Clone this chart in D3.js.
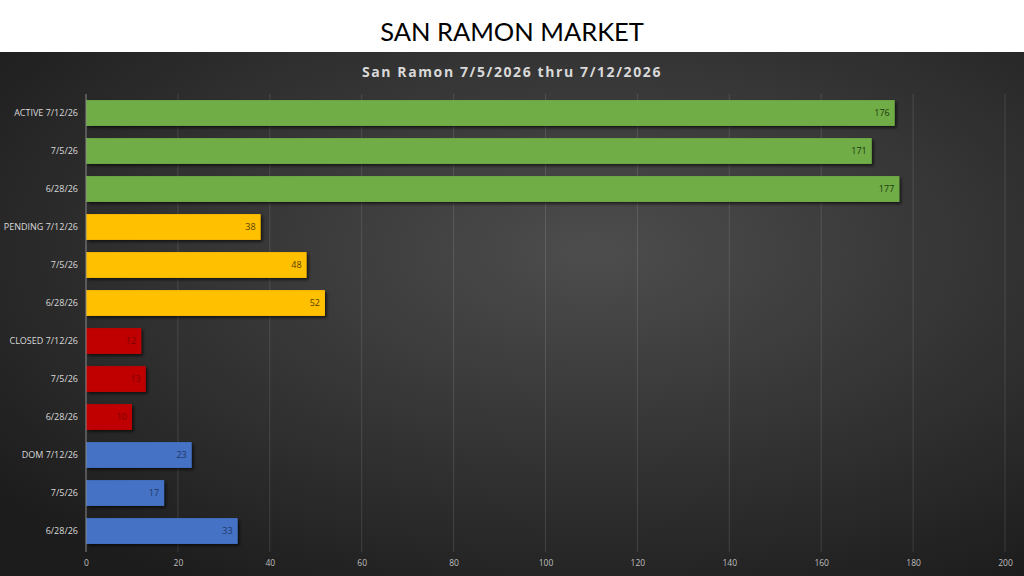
<!DOCTYPE html>
<html><head><meta charset="utf-8">
<script src="https://cdn.jsdelivr.net/npm/d3@7"></script>
<style>html,body{margin:0;padding:0;background:#fff;overflow:hidden}</style>
</head><body>
<svg id="c" width="1024" height="576"></svg>
<script>
const categories = ["ACTIVE 7/12/26","7/5/26","6/28/26","PENDING 7/12/26","7/5/26","6/28/26","CLOSED 7/12/26","7/5/26","6/28/26","DOM 7/12/26","7/5/26","6/28/26"];
const groups = ["active","active","active","pending","pending","pending","closed","closed","closed","dom","dom","dom"];
const values = [176,171,177,38,48,52,12,13,10,23,17,33];
const xTicks = [0,20,40,60,80,100,120,140,160,180,200];
const title = "SAN RAMON MARKET";
const subtitle = "San Ramon 7/5/2026 thru 7/12/2026";

const fill = {active:"#70AD47", pending:"#FFC000", closed:"#C00000", dom:"#4472C4"};
const labelColor = {active:"#1e3a0f", pending:"#5a3e00", closed:"#7a0000", dom:"#1f3864"};

const svg = d3.select("#c");
const defs = svg.append("defs");
const rg = defs.append("radialGradient").attr("id","bg").attr("cx","0.58").attr("cy","0.38").attr("r","0.75");
rg.append("stop").attr("offset","0").attr("stop-color","#4d4d4d");
rg.append("stop").attr("offset","1").attr("stop-color","#1c1c1c");
const f = defs.append("filter").attr("id","sh").attr("x","-5%").attr("y","-20%").attr("width","115%").attr("height","160%");
f.append("feDropShadow").attr("dx",2).attr("dy",2).attr("stdDeviation",1.5).attr("flood-color","#000").attr("flood-opacity",0.6);

svg.append("rect").attr("x",0).attr("y",0).attr("width",1024).attr("height",52).attr("fill","#fff");
svg.append("rect").attr("x",0).attr("y",52).attr("width",1024).attr("height",524).attr("fill","url(#bg)");

svg.append("text").attr("x",512).attr("y",41).attr("text-anchor","middle")
  .attr("font-family","Lato, 'Open Sans', sans-serif").attr("font-size",25.5).attr("fill","#000").text(title);
svg.append("text").attr("x",512).attr("y",77).attr("text-anchor","middle")
  .attr("font-family","'Open Sans', sans-serif").attr("font-weight","bold").attr("font-size",14)
  .attr("letter-spacing","1.6").attr("fill","#d9d9d9").text(subtitle);

const x = d3.scaleLinear().domain([0,200]).range([86,1005]);
const y = d3.scaleBand().domain(d3.range(categories.length)).range([94,550]).paddingInner(0.32).paddingOuter(0.16);

// gridlines
svg.append("g").selectAll("line").data(xTicks.slice(1)).join("line")
  .attr("x1",d=>x(d)).attr("x2",d=>x(d)).attr("y1",94).attr("y2",552)
  .attr("stroke","#ffffff").attr("stroke-opacity",0.12).attr("stroke-width",1);

// bars
svg.append("g").selectAll("rect").data(values).join("rect")
  .attr("x",x(0)).attr("y",(d,i)=>y(i)).attr("width",d=>x(d)-x(0)).attr("height",y.bandwidth())
  .attr("fill",(d,i)=>fill[groups[i]]).attr("filter","url(#sh)");

// axis line
svg.append("line").attr("x1",x(0)).attr("x2",x(0)).attr("y1",94).attr("y2",552).attr("stroke","#8a8a8a").attr("stroke-width",1);

// value labels
svg.append("g").selectAll("text").data(values).join("text")
  .attr("x",d=>x(d)-5).attr("y",(d,i)=>y(i)+y.bandwidth()/2).attr("dy","0.35em")
  .attr("text-anchor","end").attr("font-family","'Open Sans', sans-serif").attr("font-size",9)
  .attr("fill",(d,i)=>labelColor[groups[i]]).text(d=>d);

// category labels
svg.append("g").selectAll("text").data(categories).join("text")
  .attr("x",78).attr("y",(d,i)=>y(i)+y.bandwidth()/2).attr("dy","0.35em")
  .attr("text-anchor","end").attr("font-family","'Open Sans', sans-serif").attr("font-size",9)
  .attr("fill","#d9d9d9").text(d=>d);

// x axis
const ax = svg.append("g").attr("transform","translate(0,552)")
  .call(d3.axisBottom(x).tickValues(xTicks).tickSize(0).tickPadding(8));
ax.select(".domain").remove();
ax.selectAll("text").attr("font-family","'Open Sans', sans-serif").attr("font-size",8.5).attr("fill","#bfbfbf");
</script>
</body></html>
